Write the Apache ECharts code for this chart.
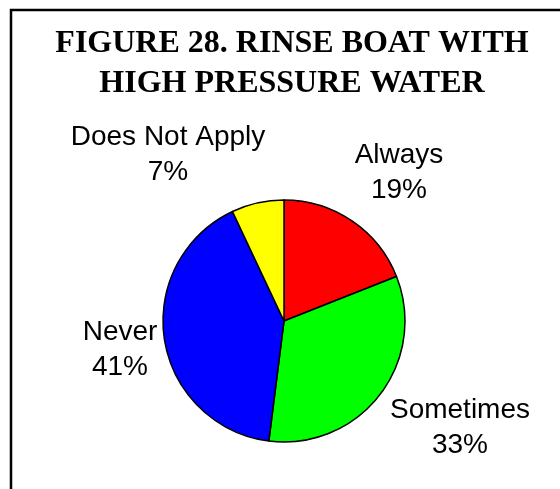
<!DOCTYPE html>
<html>
<head>
<meta charset="utf-8">
<script src="https://cdn.jsdelivr.net/npm/echarts@6/dist/echarts.min.js"></script>
<style>
html,body{margin:0;padding:0;background:#fff;}
#chart{width:560px;height:489px;}
</style>
</head>
<body>
<div id="chart"></div>
<script>
// Data
const titleLines = ['FIGURE 28. RINSE BOAT WITH', 'HIGH PRESSURE WATER'];
const categories = ['Always', 'Sometimes', 'Never', 'Does Not Apply'];
const percents = [19, 33, 41, 7];
const sliceColors = ['#FF0000', '#00FF00', '#0000FF', '#FFFF00'];

// Layout (label block centres, in px)
const labelCenters = [[399, 173], [460, 428], [120, 350], [168, 155]];

const chart = echarts.init(document.getElementById('chart'), null, {renderer: 'canvas'});
chart.setOption({
  backgroundColor: '#ffffff',
  animation: false,
  title: {
    text: titleLines.join('\n'),
    left: 287,
    top: 19,
    textAlign: 'center',
    textStyle: {
      fontFamily: 'Liberation Serif',
      fontWeight: 'bold',
      fontSize: 32,
      lineHeight: 40,
      color: '#000'
    }
  },
  graphic: [{
    type: 'rect',
    shape: {x: 11, y: 10, width: 620, height: 600},
    style: {fill: 'none', stroke: '#000', lineWidth: 2.5},
    silent: true
  }],
  series: [{
    type: 'pie',
    center: [284, 321],
    radius: 121,
    startAngle: 90,
    clockwise: true,
    avoidLabelOverlap: false,
    itemStyle: {borderColor: '#000', borderWidth: 1.5},
    label: {
      show: true,
      position: 'outside',
      formatter: p => '{a|' + p.name + '}\n{a|' + p.value + '%}',
      rich: {
        a: {
          fontFamily: 'Liberation Sans',
          fontSize: 28,
          lineHeight: 35,
          color: '#000',
          align: 'center'
        }
      }
    },
    labelLine: {show: false},
    labelLayout: function (p) {
      const c = labelCenters[p.dataIndex];
      return {x: c[0], y: c[1], align: 'center', verticalAlign: 'middle'};
    },
    emphasis: {disabled: true},
    data: categories.map((name, i) => ({
      name: name,
      value: percents[i],
      itemStyle: {color: sliceColors[i]}
    }))
  }]
});
</script>
</body>
</html>
